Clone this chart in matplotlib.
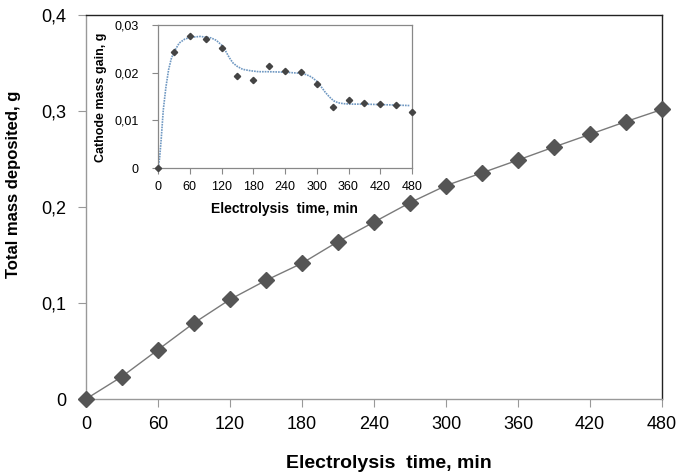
import matplotlib
matplotlib.use("Agg")
import matplotlib.pyplot as plt

plt.rcParams['font.family'] = ['Liberation Sans', 'DejaVu Sans']

# Main series
time_min = [0, 30, 60, 90, 120, 150, 180, 210, 240, 270, 300, 330, 360, 390, 420, 450, 480]
total_mass = [0, 0.0234, 0.0513, 0.0792, 0.1037, 0.1236, 0.1414, 0.164, 0.1843, 0.2045,
              0.2223, 0.2356, 0.2489, 0.2625, 0.2757, 0.289, 0.3016]

# Inset series
cathode_gain = [0, 0.0243, 0.0276, 0.0271, 0.0252, 0.0192, 0.0185, 0.0215, 0.0203, 0.0201,
                0.0177, 0.0129, 0.0143, 0.0136, 0.0134, 0.0132, 0.0117]

# Inset trend curve
trend_t = [0, 3, 6, 10, 15, 20, 25, 30, 40, 50, 60, 80, 100, 110, 120, 127, 135, 142, 150,
           160, 175, 190, 210, 240, 265, 280, 290, 300, 308, 316, 324, 332, 340, 350, 365, 390,
           420, 450, 475]
trend_v = [0, 0.002, 0.006, 0.0122, 0.0170, 0.0206, 0.0229, 0.0243, 0.0262, 0.0270, 0.0274,
           0.0276, 0.0273, 0.0268, 0.0258, 0.0247, 0.0231, 0.0220, 0.0213,
           0.0207, 0.0204, 0.0202, 0.0202, 0.0201, 0.0199, 0.0196, 0.0191, 0.0182, 0.0171,
           0.0159, 0.0149, 0.0141, 0.0137, 0.0135, 0.0134, 0.0134, 0.0133, 0.0132, 0.0131]

xticks = [0, 60, 120, 180, 240, 300, 360, 420, 480]
main_yticks = [0, 0.1, 0.2, 0.3, 0.4]
main_ylabels = ['0', '0,1', '0,2', '0,3', '0,4']
inset_yticks = [0, 0.01, 0.02, 0.03]
inset_ylabels = ['0', '0,01', '0,02', '0,03']

W, H = 678, 473
fig = plt.figure(figsize=(W / 100, H / 100), dpi=100)

def rect(l, t, r, b):
    return [l / W, 1 - b / H, (r - l) / W, (b - t) / H]

ax = fig.add_axes(rect(86, 15, 662, 399))
ax.plot(time_min, total_mass, color='#7a7a7a', lw=1.0, marker='D', ms=8,
        mfc='#555555', mec='#555555', zorder=3, clip_on=False)
ax.set_xlim(0, 480)
ax.set_ylim(0, 0.4)
ax.set_xticks(xticks)
ax.set_xticklabels([str(t) for t in xticks])
ax.set_yticks(main_yticks)
ax.set_yticklabels(main_ylabels)
ax.tick_params(axis='both', direction='out', length=6, width=0.8, color='#999999',
               labelsize=13)
ax.tick_params(axis='x', pad=6)
ax.tick_params(axis='y', pad=8)
for s in ['left', 'bottom']:
    ax.spines[s].set_color('#999999')
    ax.spines[s].set_linewidth(1.0)
for s in ['top', 'right']:
    ax.spines[s].set_color('#222222')
    ax.spines[s].set_linewidth(1.0)

fig.text(389 / W, 1 - 463 / H, 'Electrolysis  time, min', fontsize=14, fontweight='bold',
         ha='center', va='center')
fig.text(14 / W, 1 - 184 / H, 'Total mass deposited, g', fontsize=12, fontweight='bold',
         ha='center', va='center', rotation=90)

# Inset
ins = fig.add_axes(rect(158, 25, 412, 168))
ins.plot(trend_t, trend_v, color='#6f98c2', lw=1.2, ls=(0, (1, 0.6)), zorder=2)
ins.plot(time_min, cathode_gain, ls='none', marker='D', ms=3.2, mfc='#444444',
         mec='#444444', zorder=3, clip_on=False)
ins.set_xlim(0, 480)
ins.set_ylim(0, 0.03)
ins.set_xticks(xticks)
ins.set_xticklabels([str(t) for t in xticks])
ins.set_yticks(inset_yticks)
ins.set_yticklabels(inset_ylabels)
ins.tick_params(axis='both', direction='out', length=4, width=0.8, color='#888888',
                labelsize=9)
ins.tick_params(axis='x', pad=5)
ins.tick_params(axis='y', pad=10)
for s in ins.spines.values():
    s.set_color('#888888')
    s.set_linewidth(0.9)
fig.text(284 / W, 1 - 209 / H, 'Electrolysis  time, min', fontsize=10, fontweight='bold',
         ha='center', va='center')
fig.text(101 / W, 1 - 97 / H, 'Cathode mass gain, g', fontsize=9, fontweight='bold',
         ha='center', va='center', rotation=90)

fig.savefig('out.png', dpi=100)
